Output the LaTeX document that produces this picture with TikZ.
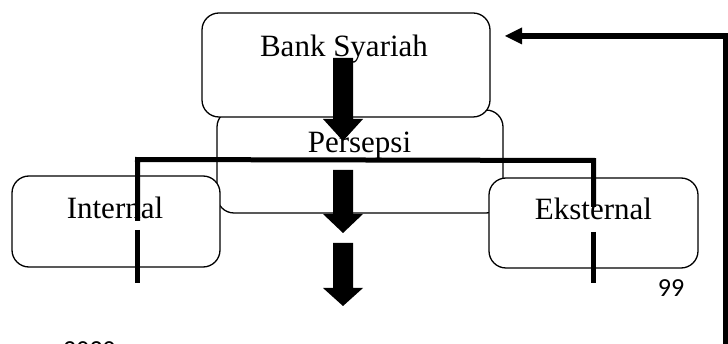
\documentclass[tikz,border=0pt]{standalone}
\usepackage{fontspec}
\setmainfont{Liberation Serif}
\newfontfamily\calib{Carlito}
\begin{document}
\begin{tikzpicture}[x=1pt,y=-1pt,
  box/.style={draw=black,line width=1.3pt,rounded corners=17pt,fill=white,inner sep=0pt},
  lbl/.style={inner sep=0pt,anchor=base,font=\fontsize{31}{36}\selectfont},
  thick line/.style={line width=5pt,line cap=butt,line join=miter},
  blockarrow/.style={fill=black}]
\useasboundingbox (0,0) rectangle (728,344);
\clip (0,0) rectangle (728,344);
% boxes
\node[box,minimum width=286pt,minimum height=103pt] (persepsi) at (360,161.5) {};
\node[box,minimum width=288pt,minimum height=104pt] (bank) at (346,65) {};
\node[box,minimum width=208pt,minimum height=91pt] (internal) at (116,221.5) {};
\node[box,minimum width=209pt,minimum height=90pt] (eksternal) at (593.5,223) {};
% texts
\node[lbl] (tbank) at (344,57) {Bank Syariah};
\node[lbl] (tpers) at (359.5,153) {Persepsi};
\node[lbl] (tint) at (115,219) {Internal};
\node[lbl] (teks) at (593.5,220) {Eksternal};
\node[inner sep=0pt,anchor=base,font=\calib\fontsize{26}{30}\selectfont] (n99) at (671,297) {99};
\node[inner sep=0pt,anchor=base west,font=\calib\fontsize{26}{30}\selectfont] (yr) at (63,358.5) {2020};
% block arrows
\fill[blockarrow] (333,58) -- (353,58) -- (353,119) -- (363,119) -- (343,141) -- (323,119) -- (333,119) -- cycle;
\fill[blockarrow] (333,170) -- (353,170) -- (353,214) -- (363,214) -- (343,233) -- (323,214) -- (333,214) -- cycle;
\fill[blockarrow] (333,243) -- (353,243) -- (353,288) -- (363,288) -- (343,306) -- (323,288) -- (333,288) -- cycle;
% thick bracket lines
\coordinate (lt) at (137.5,159.5);
\coordinate (rt) at (593.5,160.5);
\draw[thick line] (137.5,221) -- (137.5,162) (135,159.5) -- (rt) -- (593.5,207);
\draw[thick line] (137.5,230) -- (137.5,283);
\draw[thick line] (593.5,232) -- (593.5,283);
% feedback arrow
\coordinate (fb0) at (725.5,344);
\coordinate (fb1) at (725.5,36);
\coordinate (fbtip) at (505,36);
\draw[line width=6pt,line join=miter] (fb0) -- (fb1) -- (520,36);
\fill (fbtip) -- (522,27.5) -- (522,44.5) -- cycle;
\end{tikzpicture}
\end{document}
